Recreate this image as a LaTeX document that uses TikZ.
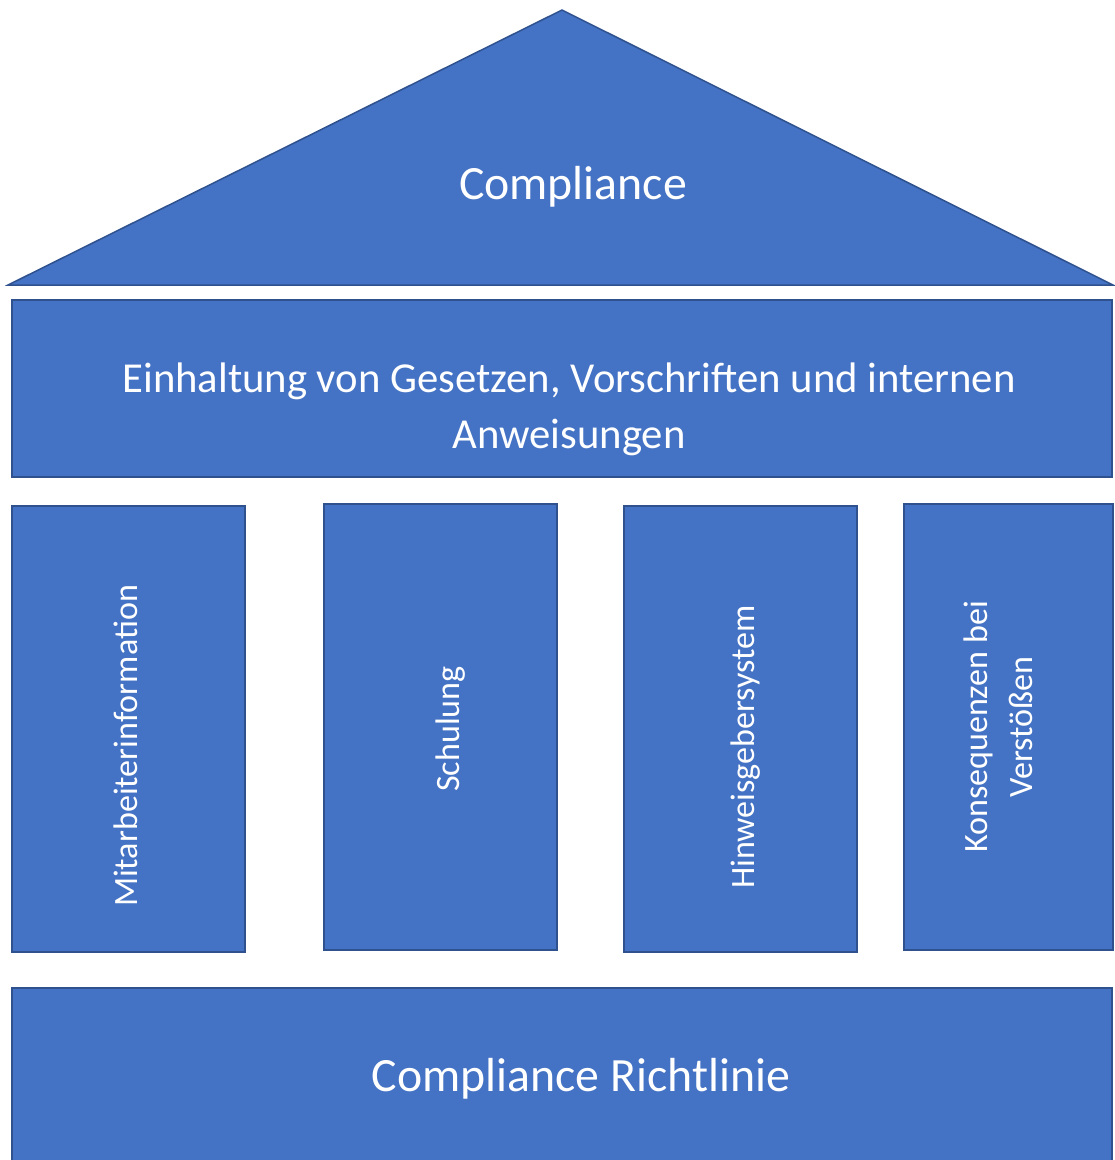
\documentclass[tikz,border=0pt]{standalone}
\usepackage{fontspec}
\setmainfont{Carlito}
\usepackage{tikz}

\definecolor{officeblue}{HTML}{4472C4}
\definecolor{officeline}{HTML}{2F528F}

\begin{document}
\begin{tikzpicture}
[
x=0.02cm, y=-0.02cm,
block/.style={fill=officeblue, draw=officeline, line width=0.85pt},
big/.style={text=white, font=\fontsize{27.2}{33}\selectfont},
mid/.style={text=white, align=center, font=\fontsize{24.3}{31.7}\selectfont},
small/.style={text=white, align=center, rotate=90, font=\fontsize{19.4}{25.5}\selectfont}
]
\useasboundingbox (0,0) rectangle (1115,1160);

% roof
\draw[block] (8,285) -- (562,10) -- (1113,285) -- cycle;
\node[big] (roof) at (573,187) {Compliance};

% beam
\draw[block] (12,300) rectangle (1112,477);
\node[mid] (beam) at (569,409) {Einhaltung von Gesetzen, Vorschriften und internen\\Anweisungen};

% pillars
\draw[block] (12,506) rectangle (245,952);
\draw[block] (324,504) rectangle (557,950);
\draw[block] (624,506) rectangle (857,952);
\draw[block] (904,504) rectangle (1113,950);
\node[small] (info) at (126,746) {Mitarbeiterinformation};
\node[small] (training) at (451,729) {Schulung};
\node[small] (whistle) at (746,747) {Hinweisgebersystem};
\node[small] (sanction) at (998,727) {Konsequenzen bei\\Verstößen};

% base
\draw[block] (12,988) rectangle (1112,1170);
\node[big] (base) at (581,1079) {Compliance Richtlinie};
\end{tikzpicture}
\end{document}
